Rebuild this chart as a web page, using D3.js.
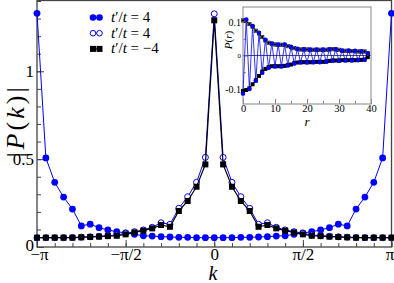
<!DOCTYPE html>
<html>
<head>
<meta charset="utf-8">
<script src="https://cdn.jsdelivr.net/npm/d3@7"></script>
<style>
  body { margin: 0; background: #fff; }
  svg { display: block; }
  text { font-family: "Liberation Serif", "DejaVu Serif", serif; fill: #000; }
</style>
</head>
<body>
<svg id="chart"></svg>
<script>
// main panel: k = 2*pi*n/40, n = -20..20
let kIndex = d3.range(-20, 21)

let blueFilled = [1.33, 0.507, 0.368, 0.284, 0.216, 0.12, 0.13, 0.11, 0.097, 0.087, 0.08,
  0.072, 0.064, 0.062, 0.059, 0.057, 0.055, 0.055, 0.053, 0.053, 0.053,
  0.053, 0.053, 0.055, 0.055, 0.057, 0.059, 0.062, 0.064, 0.072, 0.08,
  0.087, 0.097, 0.11, 0.13, 0.12, 0.216, 0.284, 0.368, 0.507, 1.33]

let blueOpen = [0.053, 0.053, 0.053, 0.053, 0.054, 0.056, 0.058, 0.061, 0.064, 0.068, 0.078,
  0.087, 0.097, 0.112, 0.138, 0.129, 0.22, 0.286, 0.368, 0.51, 1.327,
  0.51, 0.368, 0.286, 0.22, 0.129, 0.138, 0.112, 0.097, 0.087, 0.078,
  0.068, 0.064, 0.061, 0.058, 0.056, 0.054, 0.053, 0.053, 0.053, 0.053]

let blackSq = [0.053, 0.053, 0.053, 0.053, 0.053, 0.055, 0.057, 0.059, 0.062, 0.064, 0.072,
  0.083, 0.093, 0.106, 0.125, 0.115, 0.205, 0.262, 0.343, 0.47, 1.29,
  0.47, 0.343, 0.262, 0.205, 0.115, 0.125, 0.106, 0.093, 0.083, 0.072,
  0.064, 0.062, 0.059, 0.057, 0.055, 0.053, 0.053, 0.053, 0.053, 0.053]

let xTickLabels = ["\u2212\u03c0", "\u2212\u03c0/2", "0", "\u03c0/2", "\u03c0"]
let yTickLabels = ["0", "0.5", "1"]
let legendLabels = ["4", "4", "\u22124"]

// inset: P(r), r = 0..39
let rIndex = d3.range(0, 40)
let insetBlue = [-0.114, 0.108, -0.100, 0.088, -0.076, 0.068, -0.052, 0.047, -0.037, 0.036,
  -0.033, 0.033, -0.033, 0.033, -0.030, 0.026, -0.024, 0.020, -0.021, 0.019,
  -0.021, 0.018, -0.020, 0.018, -0.020, 0.018, -0.019, 0.019, -0.016, 0.019,
  -0.016, 0.015, -0.015, 0.015, -0.015, 0.014, -0.014, 0.013, -0.013, 0.007]
let insetUpper = [0.105, 0.104, 0.094, 0.086, 0.074, 0.066, 0.055, 0.045, 0.038, 0.035,
  0.033, 0.032, 0.032, 0.032, 0.028, 0.025, 0.022, 0.019, 0.018, 0.018,
  0.018, 0.017, 0.017, 0.017, 0.017, 0.017, 0.017, 0.018, 0.019, 0.018,
  0.017, 0.014, 0.014, 0.014, 0.013, 0.013, 0.012, 0.012, 0.012, 0.006]
let insetLower = [-0.106, -0.103, -0.098, -0.086, -0.074, -0.061, -0.048, -0.040, -0.035, -0.032,
  -0.032, -0.032, -0.032, -0.031, -0.029, -0.027, -0.023, -0.021, -0.020, -0.020,
  -0.020, -0.020, -0.020, -0.019, -0.019, -0.019, -0.018, -0.016, -0.015, -0.015,
  -0.015, -0.014, -0.014, -0.014, -0.014, -0.014, -0.013, -0.013, -0.012, -0.005]
let insetXTicks = [0, 10, 20, 30, 40]
let insetYTicks = [-0.1, 0, 0.1]

let width = 394
let height = 283
let blue = "#0000ff"

let svg = d3.select("#chart").attr("width", width).attr("height", height)

let xScale = d3.scaleLinear().domain([-Math.PI, Math.PI]).range([37, 391.5])
let yScale = d3.scaleLinear().domain([0, 1.40]).range([247, 1])

let kOf = n => n * Math.PI / 20

// ticks (inward)
let minorX = d3.range(-20, 21, 2).map(kOf)
let majorX = [-Math.PI, -Math.PI / 2, 0, Math.PI / 2, Math.PI]

let xAxisMinor = d3.axisBottom(xScale).tickValues(minorX).tickSize(-4).tickFormat("")
svg.append("g").attr("transform", "translate(0,247)").call(xAxisMinor)
let xAxisMajor = d3.axisBottom(xScale).tickValues(majorX).tickSize(-7).tickFormat((d, i) => xTickLabels[i]).tickPadding(4)
let gx = svg.append("g").attr("transform", "translate(0,247)").call(xAxisMajor)

let yAxisMinor = d3.axisLeft(yScale).tickValues(d3.range(0, 1.41, 0.1)).tickSize(-4).tickFormat("")
svg.append("g").attr("transform", "translate(37,0)").call(yAxisMinor)
let yAxisMajor = d3.axisLeft(yScale).tickValues([0, 0.5, 1]).tickSize(-7).tickFormat((d, i) => yTickLabels[i]).tickPadding(3)
let gy = svg.append("g").attr("transform", "translate(37,0)").call(yAxisMajor)

svg.selectAll(".domain").remove()
svg.selectAll(".tick line").attr("stroke", "#444")
gx.selectAll("text").attr("font-size", 17).attr("font-family", "Liberation Serif").attr("dy", "0.55em")
gy.selectAll("text").attr("font-size", 17).attr("font-family", "Liberation Serif")
gy.selectAll("text").filter((d, i) => i == 0).attr("dy", "0.2em")
gx.selectAll("text").filter((d, i) => i == 0).attr("dx", 2)
gx.selectAll("text").filter((d, i) => i == 4).attr("dx", -2)

// frame
svg.append("rect").attr("x", 37).attr("y", 0.5).attr("width", 354.5).attr("height", 246.5)
  .attr("fill", "none").attr("stroke", "#444").attr("stroke-width", 1.3)

let line = d3.line().x((d, i) => xScale(kOf(kIndex[i]))).y(d => yScale(d))

// blue filled circles
svg.append("path").datum(blueFilled).attr("d", line).attr("fill", "none").attr("stroke", blue).attr("stroke-width", 1)
svg.append("g").selectAll("circle").data(blueFilled).enter().append("circle")
  .attr("cx", (d, i) => xScale(kOf(kIndex[i]))).attr("cy", d => yScale(d)).attr("r", 3.4).attr("fill", blue)

// blue open circles
svg.append("path").datum(blueOpen).attr("d", line).attr("fill", "none").attr("stroke", blue).attr("stroke-width", 1)
svg.append("g").selectAll("circle").data(blueOpen).enter().append("circle")
  .attr("cx", (d, i) => xScale(kOf(kIndex[i]))).attr("cy", d => yScale(d)).attr("r", 3)
  .attr("fill", "#fff").attr("stroke", blue).attr("stroke-width", 1)

// black squares
svg.append("path").datum(blackSq).attr("d", line).attr("fill", "none").attr("stroke", "#000").attr("stroke-width", 1.2)
svg.append("g").selectAll("rect").data(blackSq).enter().append("rect")
  .attr("x", (d, i) => xScale(kOf(kIndex[i])) - 3).attr("y", d => yScale(d) - 3)
  .attr("width", 6).attr("height", 6).attr("fill", "#000")

// axis titles
svg.append("text").attr("x", 213).attr("y", 280).attr("text-anchor", "middle")
  .attr("font-size", 20).attr("font-style", "italic").text("k")
svg.append("text").attr("transform", "translate(24,121) rotate(-90)").attr("text-anchor", "middle")
  .attr("font-size", 26).attr("letter-spacing", 3)
  .html('|<tspan font-style="italic">P</tspan>(<tspan font-style="italic">k</tspan>)|')

// legend
let legend = svg.append("g")
legendLabels.forEach((lab, i) => {
  let ly = 17.5 + i * 15.7
  let row = legend.append("g")
  row.append("line").attr("x1", 93).attr("x2", 99.5).attr("y1", ly).attr("y2", ly)
    .attr("stroke", i == 2 ? "#000" : blue)
  ;[93, 99.5].forEach(mx => {
    if (i == 0) row.append("circle").attr("cx", mx).attr("cy", ly).attr("r", 3.3).attr("fill", blue)
    if (i == 1) row.append("circle").attr("cx", mx).attr("cy", ly).attr("r", 2.8).attr("fill", "#fff").attr("stroke", blue)
    if (i == 2) row.append("rect").attr("x", mx - 3).attr("y", ly - 3).attr("width", 6).attr("height", 6).attr("fill", "#000")
  })
  row.append("text").attr("x", 111).attr("y", ly + 4.5).attr("font-size", 15)
    .html('<tspan font-style="italic">t</tspan>\u2032/<tspan font-style="italic">t</tspan> = ' + lab)
})

// inset
let ix = d3.scaleLinear().domain([0, 40]).range([243, 371])
let iy = d3.scaleLinear().domain([-0.145, 0.145]).range([104, 7])
let inset = svg.append("g")

inset.append("line").attr("x1", ix(0)).attr("x2", ix(40)).attr("y1", iy(0)).attr("y2", iy(0))
  .attr("stroke", "#1a1a66").attr("stroke-width", 0.8)

let ixAxisMinor = d3.axisBottom(ix).tickValues(d3.range(0, 41, 5)).tickSize(-3).tickFormat("")
inset.append("g").attr("transform", "translate(0,104)").call(ixAxisMinor)
let ixAxis = d3.axisBottom(ix).tickValues(insetXTicks).tickSize(-5).tickPadding(1)
let gix = inset.append("g").attr("transform", "translate(0,104)").call(ixAxis)
let iyAxisMinor = d3.axisLeft(iy).tickValues([-0.05, 0.05]).tickSize(-3).tickFormat("")
inset.append("g").attr("transform", "translate(243,0)").call(iyAxisMinor)
let iyAxis = d3.axisLeft(iy).tickValues(insetYTicks).tickSize(-5).tickPadding(2)
  .tickFormat(d => d == 0 ? "0" : (d < 0 ? "-0.1" : "0.1"))
let giy = inset.append("g").attr("transform", "translate(243,0)").call(iyAxis)
inset.selectAll(".domain").remove()
inset.selectAll(".tick line").attr("stroke", "#888")
gix.selectAll("text").attr("font-size", 10.5).attr("font-family", "Liberation Serif")
giy.selectAll("text").attr("font-size", 10).attr("font-family", "Liberation Serif")
giy.selectAll("text").filter(d => d == 0).attr("font-size", 7)

inset.append("rect").attr("x", 243).attr("y", 7).attr("width", 128).attr("height", 97)
  .attr("fill", "none").attr("stroke", "#999").attr("stroke-width", 1.2)

let iline = d3.line().x((d, i) => ix(rIndex[i])).y(d => iy(d))

// blue oscillating
inset.append("path").datum(insetBlue).attr("d", iline).attr("fill", "none").attr("stroke", blue).attr("stroke-width", 0.8)
// black envelopes
;[insetUpper, insetLower].forEach(arr => {
  inset.append("path").datum(arr).attr("d", iline).attr("fill", "none").attr("stroke", "#000").attr("stroke-width", 1)
  inset.append("g").selectAll("rect").data(arr).enter().append("rect")
    .attr("x", (d, i) => ix(rIndex[i]) - 2).attr("y", d => iy(d) - 2)
    .attr("width", 4).attr("height", 4).attr("fill", "#000")
})
// open circles on upper envelope
inset.append("g").selectAll("circle").data(insetUpper).enter().append("circle")
  .attr("cx", (d, i) => ix(rIndex[i])).attr("cy", d => iy(d)).attr("r", 1.6)
  .attr("fill", "none").attr("stroke", "#888").attr("stroke-width", 0.7)
inset.append("g").selectAll("circle.b").data(insetBlue).enter().append("circle")
  .attr("cx", (d, i) => ix(rIndex[i])).attr("cy", d => iy(d)).attr("r", 2.2).attr("fill", blue)

inset.append("text").attr("x", 307).attr("y", 126).attr("text-anchor", "middle")
  .attr("font-size", 13).attr("font-style", "italic").text("r")
inset.append("text").attr("transform", "translate(232,40) rotate(-90)").attr("text-anchor", "middle")
  .attr("font-size", 11)
  .html('<tspan font-style="italic">P</tspan>(<tspan font-style="italic">r</tspan>)')
</script>
</body>
</html>
